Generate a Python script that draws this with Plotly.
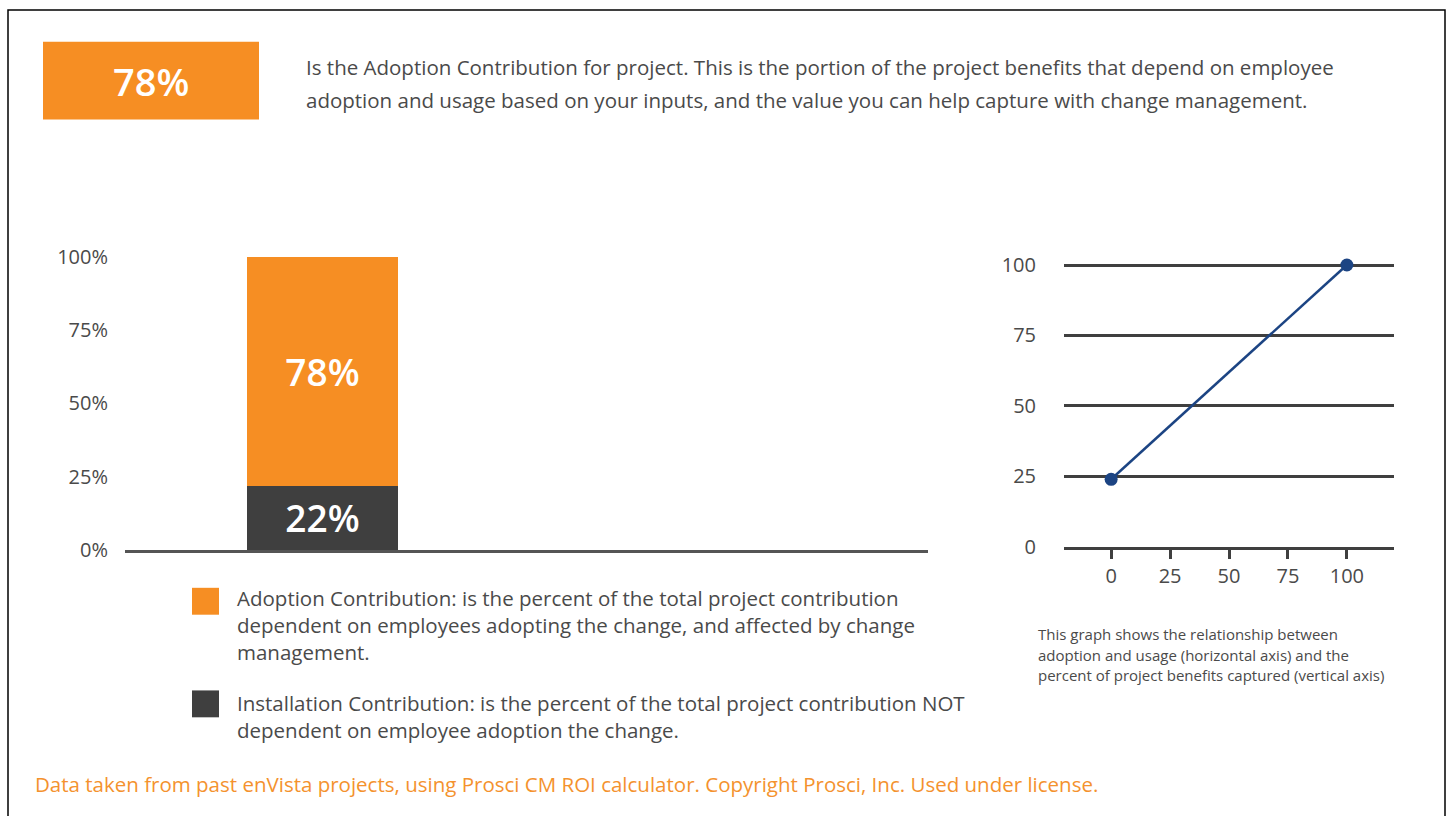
import plotly.graph_objects as go

# ---- data ----
category = ["Project"]
adoption = [78]        # Adoption Contribution (%)
installation = [22]    # Installation Contribution (%)
pct_ticks = [0, 25, 50, 75, 100]
pct_labels = ["0%", "25%", "50%", "75%", "100%"]

usage_x = [0, 100]     # adoption and usage
benefit_y = [24, 100]  # percent of benefits captured
axis_ticks = [0, 25, 50, 75, 100]

ORANGE = "#F68E23"
DARK = "#3F3F3F"
NAVY = "#1C4483"
TXT = "#4A4A4A"
FONT = "Open Sans"

W, H = 1448, 816
HE = 806  # effective rendered height
def px(x): return x / W
def py(y): return 1 - y / HE

fig = go.Figure()

fig.add_trace(go.Bar(
    x=[0], y=installation, marker=dict(color=DARK, line=dict(width=0)),
    width=0.764, text=[f"{v}%" for v in installation], textposition="inside",
    insidetextanchor="middle", textfont=dict(color="white", size=37, family=FONT, weight=600),
    xaxis="x", yaxis="y", name="Installation Contribution",
))
fig.add_trace(go.Bar(
    x=[0], y=adoption, marker=dict(color=ORANGE, line=dict(width=0)),
    width=0.764, text=[f"{v}%" for v in adoption], textposition="inside",
    insidetextanchor="middle", textfont=dict(color="white", size=37, family=FONT, weight=600),
    xaxis="x", yaxis="y", name="Adoption Contribution",
))
fig.add_trace(go.Scatter(
    x=usage_x, y=benefit_y, mode="lines+markers",
    line=dict(color=NAVY, width=2.5), marker=dict(color=NAVY, size=13),
    xaxis="x2", yaxis="y2", cliponaxis=False,
))

fig.update_layout(
    width=W, height=H, margin=dict(l=0, r=0, t=0, b=0),
    paper_bgcolor="white", plot_bgcolor="white", showlegend=False,
    barmode="stack", font=dict(family=FONT, color=TXT),
    xaxis=dict(domain=[px(125), px(928)], range=[-1.0, 3.066], showgrid=False,
               zeroline=False, showticklabels=False, ticks="",
               showline=True, linecolor="#555555", linewidth=3, fixedrange=True),
    yaxis=dict(domain=[py(552), py(230)], range=[0, 100 * (552 - 230) / 294],
               tickvals=pct_ticks, ticktext=pct_labels, showgrid=False, zeroline=False,
               showline=False, tickfont=dict(size=20, color=TXT, family=FONT),
               ticks="outside", ticklen=12, tickcolor="rgba(0,0,0,0)", fixedrange=True),
    xaxis2=dict(domain=[px(1064), px(1394)], range=[-20, 120], tickvals=axis_ticks,
                showgrid=False, zeroline=False, showline=True, linecolor=DARK, linewidth=2.5,
                ticks="outside", ticklen=9, tickwidth=2.5, tickcolor=DARK,
                tickfont=dict(size=20, color=TXT, family=FONT), anchor="y2", fixedrange=True),
    yaxis2=dict(domain=[py(549), py(250)], range=[0, 100 * (549 - 250) / 283],
                tickvals=axis_ticks, showgrid=True, gridcolor=DARK, gridwidth=2.5,
                zeroline=False, showline=False, ticks="outside", ticklen=23,
                tickcolor="rgba(0,0,0,0)", tickfont=dict(size=20, color=TXT, family=FONT),
                anchor="x2", fixedrange=True),
)

shapes = [
    dict(type="rect", xref="paper", yref="paper", x0=px(8), x1=px(1445), y0=py(840), y1=py(10),
         line=dict(color="black", width=1.5), fillcolor="rgba(0,0,0,0)", layer="below"),
    dict(type="rect", xref="paper", yref="paper", x0=px(43), x1=px(259), y0=py(120), y1=py(42),
         line=dict(width=0), fillcolor=ORANGE),
    dict(type="rect", xref="paper", yref="paper", x0=px(192), x1=px(219), y0=py(617), y1=py(590),
         line=dict(width=0), fillcolor=ORANGE),
    dict(type="rect", xref="paper", yref="paper", x0=px(192), x1=px(219), y0=py(720), y1=py(693),
         line=dict(width=0), fillcolor=DARK),
]
fig.update_layout(shapes=shapes)

ann = []
def text(x, y, s, size=20.5, color=TXT, xanchor="left", weight=400):
    ann.append(dict(xref="paper", yref="paper", x=px(x), y=py(y), text=s, showarrow=False,
                    xanchor=xanchor, yanchor="middle", align="left",
                    font=dict(size=size, color=color, family=FONT, weight=weight)))

text(151, 81, f"{adoption[0]}%", size=38, color="white", xanchor="center", weight=600)
text(304, 67, "Is the Adoption Contribution for project. This is the portion of the project benefits that depend on employee")
text(304, 100, "adoption and usage based on your inputs, and the value you can help capture with change management.")

leg1 = ["Adoption Contribution: is the percent of the total project contribution",
        "dependent on employees adopting the change, and affected by change",
        "management."]
for i, s in enumerate(leg1):
    text(235, 600 + 27 * i, s)
leg2 = ["Installation Contribution: is the percent of the total project contribution NOT",
        "dependent on employee adoption the change."]
for i, s in enumerate(leg2):
    text(235, 706 + 27 * i, s)

cap = ["This graph shows the relationship between",
       "adoption and usage (horizontal axis) and the",
       "percent of project benefits captured (vertical axis)"]
for i, s in enumerate(cap):
    text(1036, 636 + 21 * i, s, size=15)

text(33, 787, "Data taken from past enVista projects, using Prosci CM ROI calculator. Copyright Prosci, Inc. Used under license.",
     color="#F4922E")

fig.update_layout(annotations=ann)
fig.write_html("out.html")
